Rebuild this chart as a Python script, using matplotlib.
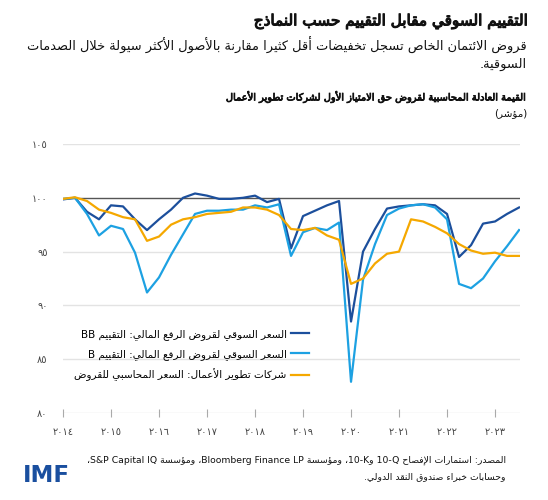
import numpy as np
import matplotlib.pyplot as plt
import matplotlib.patheffects as pe

# --- minimal Arabic shaping + bidi so the text draws right-to-left ---
FORMS = {
    'ء': (0xFE80, 1), 'آ': (0xFE81, 2), 'أ': (0xFE83, 2), 'ؤ': (0xFE85, 2),
    'إ': (0xFE87, 2), 'ئ': (0xFE89, 4), 'ا': (0xFE8D, 2), 'ب': (0xFE8F, 4),
    'ة': (0xFE93, 2), 'ت': (0xFE95, 4), 'ث': (0xFE99, 4), 'ج': (0xFE9D, 4),
    'ح': (0xFEA1, 4), 'خ': (0xFEA5, 4), 'د': (0xFEA9, 2), 'ذ': (0xFEAB, 2),
    'ر': (0xFEAD, 2), 'ز': (0xFEAF, 2), 'س': (0xFEB1, 4), 'ش': (0xFEB5, 4),
    'ص': (0xFEB9, 4), 'ض': (0xFEBD, 4), 'ط': (0xFEC1, 4), 'ظ': (0xFEC5, 4),
    'ع': (0xFEC9, 4), 'غ': (0xFECD, 4), 'ف': (0xFED1, 4), 'ق': (0xFED5, 4),
    'ك': (0xFED9, 4), 'ل': (0xFEDD, 4), 'م': (0xFEE1, 4), 'ن': (0xFEE5, 4),
    'ه': (0xFEE9, 4), 'و': (0xFEED, 2), 'ى': (0xFEEF, 2), 'ي': (0xFEF1, 4),
}
LAM_ALEF = {'آ': 0xFEF5, 'أ': 0xFEF7, 'إ': 0xFEF9, 'ا': 0xFEFB}


def shape(s):
    out = []
    i = 0
    n = len(s)
    while i < n:
        c = s[i]
        if c not in FORMS:
            out.append(c)
            i += 1
            continue
        prev = s[i - 1] if i > 0 else ''
        linked = prev in FORMS and FORMS[prev][1] == 4
        if c == 'ل' and i + 1 < n and s[i + 1] in LAM_ALEF:
            out.append(chr(LAM_ALEF[s[i + 1]] + (1 if linked else 0)))
            i += 2
            continue
        base, kind = FORMS[c]
        nxt = s[i + 1] if i + 1 < n else ''
        to_next = kind == 4 and nxt in FORMS
        if kind == 1:
            form = base
        elif linked and to_next:
            form = base + 3
        elif linked:
            form = base + 1
        elif to_next:
            form = base + 2
        else:
            form = base
        out.append(chr(form))
        i += 1
    return ''.join(out)


def ar(s):
    t = shape(s)
    kinds = []
    for c in t:
        if '\u0660' <= c <= '\u0669' or (c.isascii() and c.isalnum()):
            kinds.append('L')
        elif ('\u0600' <= c <= '\u06FF' or '\uFE70' <= c <= '\uFEFF') and c != '\u060c':
            kinds.append('R')
        else:
            kinds.append('N')
    n = len(t)
    res = kinds[:]
    for i in range(n):
        if kinds[i] == 'N':
            p = next((kinds[j] for j in range(i - 1, -1, -1) if kinds[j] != 'N'), 'R')
            q = next((kinds[j] for j in range(i + 1, n) if kinds[j] != 'N'), 'R')
            res[i] = 'L' if p == q == 'L' else 'R'
    runs = []
    for c, k in zip(t, res):
        if runs and runs[-1][0] == k:
            runs[-1][1].append(c)
        else:
            runs.append([k, [c]])
    mirror = {'(': ')', ')': '('}
    out = ''
    for k, chars in reversed(runs):
        if k == 'R':
            out += ''.join(mirror.get(c, c) for c in reversed(chars))
        else:
            out += ''.join(chars)
    return out


# --- data (quarterly index, 2014Q1 - 2023Q3) ---
bb_loans = [99.85, 100.0, 98.7, 98.0,
            99.3, 99.2, 98.0, 97.0,
            98.0, 98.9, 100.0, 100.4,
            100.2, 99.9, 99.9, 100.0,
            100.2, 99.6, 99.9, 95.3,
            98.3, 98.8, 99.3, 99.7,
            88.5, 95.0, 97.1, 99.0,
            99.2, 99.3, 99.4, 99.3,
            98.5, 94.5, 95.6, 97.6,
            97.8, 98.5, 99.1]
b_loans = [99.9, 100.0, 98.5, 96.5,
           97.4, 97.1, 94.9, 91.2,
           92.6, 94.7, 96.6, 98.5,
           98.8, 98.8, 98.9, 98.9,
           99.3, 99.1, 99.4, 94.6,
           96.8, 97.2, 97.0, 97.7,
           82.9, 92.4, 95.7, 98.4,
           99.0, 99.3, 99.4, 99.1,
           98.0, 92.0, 91.6, 92.5,
           94.1, 95.5, 97.0]
bdc_book = [99.9, 100.05, 99.7, 98.9,
            98.6, 98.2, 98.0, 96.0,
            96.4, 97.5, 98.0, 98.2,
            98.5, 98.6, 98.7, 99.1,
            99.1, 98.9, 98.4, 97.1,
            97.0, 97.2, 96.5, 96.1,
            92.0, 92.5, 93.9, 94.8,
            95.0, 98.0, 97.8, 97.3,
            96.7, 95.7, 95.1, 94.8,
            94.9, 94.6, 94.6]
quarters = 2014 + np.arange(len(bb_loans)) / 4

years = list(range(2014, 2024))
year_labels = ['٢٠١٤', '٢٠١٥', '٢٠١٦', '٢٠١٧', '٢٠١٨',
               '٢٠١٩', '٢٠٢٠', '٢٠٢١', '٢٠٢٢', '٢٠٢٣']
y_ticks = [80, 85, 90, 95, 100, 105]
y_labels = ['٨٠', '٨٥', '٩٠', '٩٥', '١٠٠', '١٠٥']

labels = ['السعر السوقي لقروض الرفع المالي: التقييم BB',
          'السعر السوقي لقروض الرفع المالي: التقييم B',
          'شركات تطوير الأعمال: السعر المحاسبي للقروض']
colors = ['#1c4f9c', '#1da1e2', '#f5a800']

plt.rcParams['font.family'] = ['DejaVu Sans']

fig = plt.figure(figsize=(5.48, 5.0), dpi=100)
ax = fig.add_axes([63 / 548, 1 - 413 / 500, 457 / 548, 269 / 500])

for g in [80, 85, 90, 95, 105]:
    ax.axhline(g, color='#e3e3e3', lw=1, zorder=0)
ax.axhline(100, color='#555555', lw=1, zorder=1)

for vals, col, lab in zip([bb_loans, b_loans, bdc_book], colors, labels):
    ax.plot(quarters, vals, color=col, lw=1.6, label=ar(lab), zorder=3)

ax.set_xlim(2014, 2023.52)
ax.set_ylim(80, 105)
for s in ax.spines.values():
    s.set_visible(False)
ax.set_xticks(years)
ax.set_xticklabels(year_labels, fontsize=7, color='#444444')
ax.set_yticks(y_ticks)
ax.set_yticklabels(y_labels, fontsize=7, color='#444444')
ax.tick_params(axis='x', direction='inout', length=6, color='#aaaaaa', pad=7)
ax.tick_params(axis='y', length=0, pad=11)

leg = ax.legend(loc='upper right', bbox_to_anchor=(309 / 548, 1 - 329 / 500),
                bbox_transform=fig.transFigure, frameon=False, markerfirst=False,
                fontsize=7.5, handlelength=1.7, handletextpad=0.45, labelspacing=0.85,
                borderpad=0, borderaxespad=0)

# titles
fig.text(527 / 548, 1 - 22 / 500, ar('التقييم السوقي مقابل التقييم حسب النماذج'),
         ha='right', va='center', fontsize=11, color='#111111',
         path_effects=[pe.withStroke(linewidth=0.8, foreground='#111111')])
fig.text(527 / 548, 1 - 45 / 500,
         ar('قروض الائتمان الخاص تسجل تخفيضات أقل كثيرا مقارنة بالأصول الأكثر سيولة خلال الصدمات'),
         ha='right', va='center', fontsize=9.4, color='#111111')
fig.text(527 / 548, 1 - 64 / 500, ar('السوقية.'),
         ha='right', va='center', fontsize=9.4, color='#111111')
fig.text(527 / 548, 1 - 97 / 500,
         ar('القيمة العادلة المحاسبية لقروض حق الامتياز الأول لشركات تطوير الأعمال'),
         ha='right', va='center', fontsize=7.1, color='#111111',
         path_effects=[pe.withStroke(linewidth=0.55, foreground='#111111')])
fig.text(527 / 548, 1 - 113 / 500, ar('(مؤشر)'),
         ha='right', va='center', fontsize=7.5, color='#111111')

# source + logo
fig.text(506 / 548, 1 - 460 / 500,
         ar('المصدر: استمارات الإفصاح 10-Q و10-K، ومؤسسة Bloomberg Finance LP، ومؤسسة S&P Capital IQ،'),
         ha='right', va='center', fontsize=6.7, color='#111111')
fig.text(506 / 548, 1 - 477 / 500, ar('وحسابات خبراء صندوق النقد الدولي.'),
         ha='right', va='center', fontsize=6.7, color='#111111')
fig.text(46 / 548, 1 - 475 / 500, 'IMF', ha='center', va='center',
         fontsize=16.5, fontweight='bold', color='#1a4f9f')

fig.savefig('out.png', dpi=100)
